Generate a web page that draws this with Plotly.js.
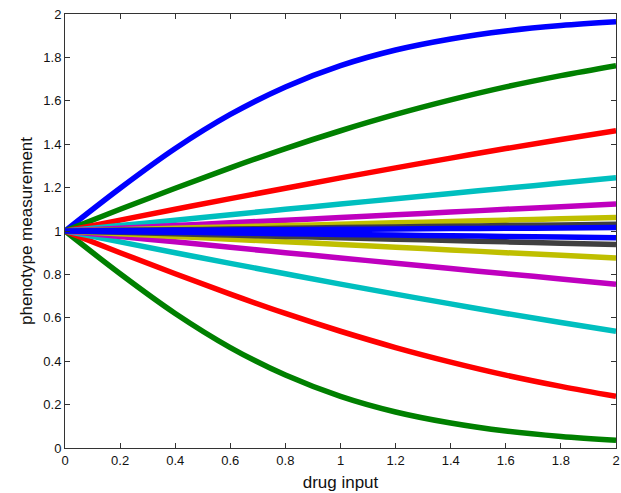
<!DOCTYPE html>
<html>
<head>
<meta charset="utf-8">
<script src="https://cdn.plot.ly/plotly-3.0.1.min.js"></script>
<style>html,body{margin:0;padding:0;background:#fff;}#chart{width:621px;height:493px;}</style>
</head>
<body>
<div id="chart"></div>
<script>
var drugInput = [0, 0.2, 0.4, 0.6, 0.8, 1.0, 1.2, 1.4, 1.6, 1.8, 2.0];

var seriesColors = ['#0000FF', '#008000', '#FF0000', '#00BFBF', '#BF00BF', '#BFBF00', '#404040'];

var tickValues = [0, 0.2, 0.4, 0.6, 0.8, 1, 1.2, 1.4, 1.6, 1.8, 2];
var tickLabels = ['0', '0.2', '0.4', '0.6', '0.8', '1', '1.2', '1.4', '1.6', '1.8', '2'];

var s01 = [1, 1.197, 1.380, 1.537, 1.664, 1.762, 1.834, 1.885, 1.922, 1.947, 1.964];
var s02 = [1, 1.100, 1.197, 1.291, 1.380, 1.462, 1.537, 1.604, 1.664, 1.716, 1.762];
var s03 = [1, 1.050, 1.100, 1.149, 1.197, 1.245, 1.291, 1.336, 1.380, 1.422, 1.462];
var s04 = [1, 1.025, 1.050, 1.075, 1.100, 1.124, 1.149, 1.173, 1.197, 1.221, 1.245];
var s05 = [1, 1.0125, 1.025, 1.0375, 1.050, 1.062, 1.075, 1.087, 1.100, 1.112, 1.124];
var s06 = [1, 1.006, 1.0125, 1.019, 1.025, 1.031, 1.0375, 1.044, 1.050, 1.056, 1.062];
var s07 = [1, 1.003, 1.006, 1.009, 1.0125, 1.016, 1.019, 1.022, 1.025, 1.028, 1.031];
var s08 = [1, 1.002, 1.003, 1.005, 1.006, 1.008, 1.009, 1.011, 1.0125, 1.014, 1.016];
var s09 = [1, 0.803, 0.620, 0.463, 0.336, 0.238, 0.166, 0.115, 0.078, 0.053, 0.036];
var s10 = [1, 0.900, 0.803, 0.709, 0.620, 0.538, 0.463, 0.396, 0.336, 0.284, 0.238];
var s11 = [1, 0.950, 0.900, 0.851, 0.803, 0.755, 0.709, 0.664, 0.620, 0.578, 0.538];
var s12 = [1, 0.975, 0.950, 0.925, 0.900, 0.876, 0.851, 0.827, 0.803, 0.779, 0.755];
var s13 = [1, 0.9875, 0.975, 0.9625, 0.950, 0.938, 0.925, 0.913, 0.900, 0.888, 0.876];
var s14 = [1, 0.994, 0.9875, 0.981, 0.975, 0.969, 0.9625, 0.956, 0.950, 0.944, 0.938];
var s15 = [1, 0.997, 0.994, 0.991, 0.9875, 0.984, 0.981, 0.978, 0.975, 0.972, 0.969];

var allSeries = [s01, s02, s03, s04, s05, s06, s07, s08, s09, s10, s11, s12, s13, s14, s15];

var traces = allSeries.map(function (ys, i) {
  return {
    x: drugInput,
    y: ys,
    type: 'scatter',
    mode: 'lines',
    line: {color: seriesColors[i % seriesColors.length], width: 5.5, shape: 'spline', smoothing: 1},
    showlegend: false,
    hoverinfo: 'skip'
  };
});

var labelFont = 'Liberation Sans, Arial, sans-serif';

var axisCommon = {
  showline: true,
  linecolor: '#333333',
  linewidth: 1,
  mirror: 'ticks',
  ticks: 'inside',
  ticklen: 5,
  tickwidth: 1,
  tickcolor: '#333333',
  showgrid: false,
  zeroline: false,
  range: [0, 2],
  tickvals: tickValues,
  ticktext: tickLabels,
  tickfont: {family: labelFont, size: 13, color: '#111111'}
};

var layout = {
  width: 621,
  height: 493,
  margin: {l: 65, r: 5, t: 14, b: 45},
  paper_bgcolor: '#ffffff',
  plot_bgcolor: '#ffffff',
  xaxis: Object.assign({}, axisCommon, {
    title: {text: 'drug input', font: {family: labelFont, size: 17, color: '#111111'}, standoff: 9}
  }),
  yaxis: Object.assign({}, axisCommon, {
    title: {text: 'phenotype measurement', font: {family: labelFont, size: 17, color: '#111111'}, standoff: 6}
  })
};

Plotly.newPlot('chart', traces, layout, {displayModeBar: false, staticPlot: true});
</script>
</body>
</html>
